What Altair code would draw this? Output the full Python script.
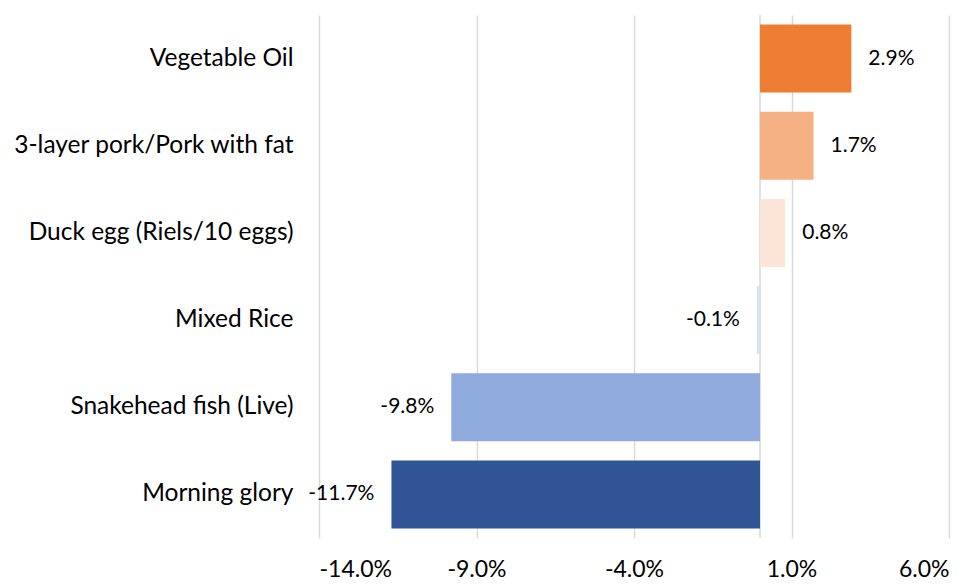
import altair as alt
import pandas as pd

categories = ["Vegetable Oil", "3-layer pork/Pork with fat", "Duck egg (Riels/10 eggs)",
              "Mixed Rice", "Snakehead fish (Live)", "Morning glory"]
values = [2.9, 1.7, 0.8, -0.1, -9.8, -11.7]
colors = ["#ED7D31", "#F4B183", "#FBE5D6", "#DAE3F3", "#8FAADC", "#2F5597"]
tick_values = [-14, -9, -4, 1, 6]

df = pd.DataFrame({"item": categories, "value": values})
df["label"] = [f"{v:.1f}%" for v in values]

FONT = "Lato"

y_enc = alt.Y("item:N", sort=categories,
              scale=alt.Scale(paddingInner=0.22, paddingOuter=0.11),
              axis=alt.Axis(title=None, ticks=False, domain=False, labelPadding=26,
                            labelFontSize=24.5, labelColor="#000000", labelFont=FONT,
                            labelLimit=400, grid=False))
x_scale = alt.Scale(domain=[-14, 6], nice=False, zero=False)

base = alt.Chart(df)

bars = base.mark_bar().encode(
    x=alt.X("value:Q", scale=x_scale,
            axis=alt.Axis(title=None, values=tick_values, ticks=False, domain=False,
                          labelExpr="replace(format(datum.value, '.1f'), '\u2212', '-') + '%'",
                          labelFontSize=23, labelColor="#000000", labelFont=FONT,
                          labelPadding=20, gridColor="#d9d9d9", gridWidth=1.5)),
    x2=alt.datum(0),
    y=y_enc,
    color=alt.Color("item:N", scale=alt.Scale(domain=categories, range=colors), legend=None),
)

zero_rule = alt.Chart(pd.DataFrame({"z": [0]})).mark_rule(color="#d9d9d9", strokeWidth=1.5).encode(
    x=alt.X("z:Q", scale=x_scale)
)

pos_text = base.transform_filter("datum.value >= 0").mark_text(
    align="left", dx=17, fontSize=21, font=FONT, color="#000000"
).encode(x=alt.X("value:Q", scale=x_scale), y=alt.Y("item:N", sort=categories), text="label:N")

neg_text = base.transform_filter("datum.value < 0").mark_text(
    align="right", dx=-17, fontSize=21, font=FONT, color="#000000"
).encode(x=alt.X("value:Q", scale=x_scale), y=alt.Y("item:N", sort=categories), text="label:N")

chart = alt.layer(zero_rule, bars, pos_text, neg_text).properties(
    width=630, height=523,
    autosize=alt.AutoSizeParams(type="none"),
    padding={"left": 311, "top": 7, "right": 21, "bottom": 46},
).configure_view(stroke=None).configure_axis(grid=True)

chart.save("out.html", embed_options={"renderer": "svg", "actions": False})
